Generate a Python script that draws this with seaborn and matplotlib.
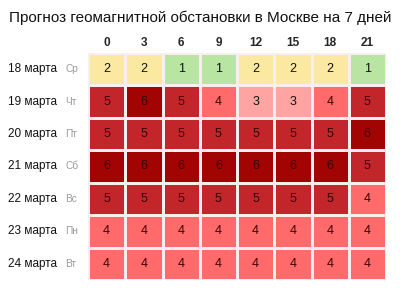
import matplotlib
matplotlib.use("Agg")
import matplotlib.pyplot as plt
import seaborn as sns
import numpy as np
import pandas as pd
from matplotlib.colors import ListedColormap, BoundaryNorm
from matplotlib.transforms import blended_transform_factory

hours = ["0", "3", "6", "9", "12", "15", "18", "21"]
dates = ["18 марта", "19 марта", "20 марта", "21 марта", "22 марта", "23 марта", "24 марта"]
weekdays = ["Ср", "Чт", "Пт", "Сб", "Вс", "Пн", "Вт"]
row_18 = [2, 2, 1, 1, 2, 2, 2, 1]
row_19 = [5, 6, 5, 4, 3, 3, 4, 5]
row_20 = [5, 5, 5, 5, 5, 5, 5, 6]
row_21 = [6, 6, 6, 6, 6, 6, 6, 5]
row_22 = [5, 5, 5, 5, 5, 5, 5, 4]
row_23 = [4, 4, 4, 4, 4, 4, 4, 4]
row_24 = [4, 4, 4, 4, 4, 4, 4, 4]

df = pd.DataFrame([row_18, row_19, row_20, row_21, row_22, row_23, row_24],
                  index=dates, columns=hours)

sns.set_style("white")
plt.rcParams['font.family'] = ['Liberation Sans', 'DejaVu Sans']

colors = ["#b8e5a2", "#fbe9a1", "#ffa3a3", "#ff6a6a", "#c3262a", "#a20303"]
cmap = ListedColormap(colors)
norm = BoundaryNorm([0.5, 1.5, 2.5, 3.5, 4.5, 5.5, 6.5], cmap.N)

fig = plt.figure(figsize=(4.0, 2.91), dpi=100)
ax = fig.add_axes([0.22, 0.038, 0.745, 0.78])
sns.heatmap(df, ax=ax, cmap=cmap, norm=norm, cbar=False, annot=True, fmt="d",
            linewidths=0.8, linecolor="#f8eeee",
            annot_kws={"fontsize": 9, "color": "#1a0000"})
for t, v in zip(ax.texts, df.values.flatten()):
    if v >= 4:
        t.set_color("#3a0000")
    else:
        t.set_color("#111111")

ax.xaxis.tick_top()
ax.tick_params(axis="x", length=0, pad=3)
ax.set_xticklabels(hours, fontsize=8.5, fontweight="bold", rotation=0)
ax.set_yticks([])
ax.set_ylabel("")
ax.set_xlabel("")

trans = blended_transform_factory(fig.transFigure, ax.transData)
for i, (d, w) in enumerate(zip(dates, weekdays)):
    ax.text(0.02, i + 0.5, d, transform=trans, fontsize=8.5, color="#111111",
            va="center", ha="left")
    ax.text(0.163, i + 0.5, w, transform=trans, fontsize=7.3, color="#9a9a9a",
            va="center", ha="left")

fig.text(0.5, 0.938, "Прогноз геомагнитной обстановки в Москве на 7 дней",
         ha="center", va="center", fontsize=11, color="#111111")

fig.savefig("out.png", dpi=100)
